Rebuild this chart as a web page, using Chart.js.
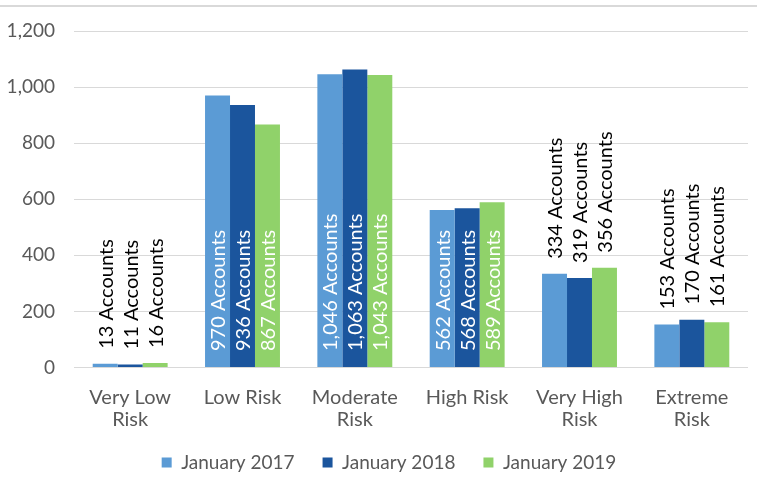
<!DOCTYPE html>
<html>
<head>
<meta charset="utf-8">
<script src="https://cdn.jsdelivr.net/npm/chart.js@4.4.1/dist/chart.umd.min.js"></script>
<style>
  html, body { margin: 0; padding: 0; background: #fff; }
  #wrap { position: relative; width: 757px; height: 478px; }
</style>
</head>
<body>
<div id="wrap"><canvas id="chart"></canvas></div>
<script>
const CATEGORIES = [["Very Low", "Risk"], "Low Risk", ["Moderate", "Risk"], "High Risk", ["Very High", "Risk"], ["Extreme", "Risk"]];
const SERIES     = ["January 2017", "January 2018", "January 2019"];
const JAN_2017   = [13, 970, 1046, 562, 334, 153];
const JAN_2018   = [11, 936, 1063, 568, 319, 170];
const JAN_2019   = [16, 867, 1043, 589, 356, 161];
const COLORS     = ["#5B9BD5", "#1B559D", "#90D26A"];
const Y_TICKS    = [0, 200, 400, 600, 800, 1000, 1200];

const GREY = "#595959";
const FONT = "Lato";

// thin rule across the top of the picture
const topRule = {
  id: "topRule",
  beforeDraw(chart) {
    const { ctx, width } = chart;
    ctx.save();
    ctx.fillStyle = "#d9d9d9";
    ctx.fillRect(0, 5, width, 2);
    ctx.restore();
  },
};

// legend: fixed height, nudged into place after layout
const legendPlace = {
  id: "legendPlace",
  beforeInit(chart) {
    const fit = chart.legend.fit;
    chart.legend.fit = function () { fit.call(this); this.height = 48.5; };
  },
  afterLayout(chart) {
    const lg = chart.legend;
    lg.left += 15; lg.right += 15;
    lg.top -= 4.5; lg.bottom -= 4.5;
  },
};

// rotated "N Accounts" labels, inside the bar when it fits, above it otherwise
const valueLabels = {
  id: "valueLabels",
  afterDatasetsDraw(chart) {
    const { ctx } = chart;
    ctx.save();
    ctx.font = "20px " + FONT;
    ctx.textAlign = "left";
    ctx.textBaseline = "middle";
    chart.data.datasets.forEach((ds, i) => {
      chart.getDatasetMeta(i).data.forEach((bar, j) => {
        const txt = ds.data[j].toLocaleString("en-US") + " Accounts";
        const w = ctx.measureText(txt).width;
        const inside = bar.base - bar.y > w + 32;
        const start = inside ? bar.base - 16 : bar.y - 15;
        ctx.save();
        ctx.translate(bar.x + 1, start);
        ctx.rotate(-Math.PI / 2);
        ctx.fillStyle = inside ? "#ffffff" : "#000000";
        ctx.fillText(txt, 0, 0);
        ctx.restore();
      });
    });
    ctx.restore();
  },
};

new Chart(document.getElementById("chart"), {
  type: "bar",
  data: {
    labels: CATEGORIES,
    datasets: [
      { label: SERIES[0], data: JAN_2017, backgroundColor: COLORS[0] },
      { label: SERIES[1], data: JAN_2018, backgroundColor: COLORS[1] },
      { label: SERIES[2], data: JAN_2019, backgroundColor: COLORS[2] },
    ],
  },
  options: {
    responsive: true, maintainAspectRatio: false, animation: false, devicePixelRatio: 1,
    categoryPercentage: 0.667, barPercentage: 1,
    layout: { padding: { top: 31, right: 9, bottom: 0, left: 0 } },
    plugins: {
      tooltip: { enabled: false },
      legend: {
        position: "bottom",
        labels: { boxWidth: 10, boxHeight: 10, padding: 28, color: GREY, font: { family: FONT, size: 19 } },
      },
    },
    scales: {
      x: {
        grid: { display: false, drawTicks: false },
        border: { display: false },
        ticks: { color: GREY, padding: 19, font: { family: FONT, size: 20, lineHeight: 1.1 }, maxRotation: 0 },
        afterFit: (s) => { s.height = 62; },
      },
      y: {
        min: Y_TICKS[0], max: Y_TICKS[Y_TICKS.length - 1],
        grid: { color: "#d9d9d9", drawTicks: false },
        border: { display: false },
        ticks: {
          stepSize: Y_TICKS[1] - Y_TICKS[0], padding: 19, color: GREY,
          font: { family: FONT, size: 19 },
          callback: (v) => v.toLocaleString("en-US"),
        },
        afterFit: (s) => { s.width = 74; },
      },
    },
  },
  plugins: [topRule, legendPlace, valueLabels],
});
</script>
</body>
</html>
